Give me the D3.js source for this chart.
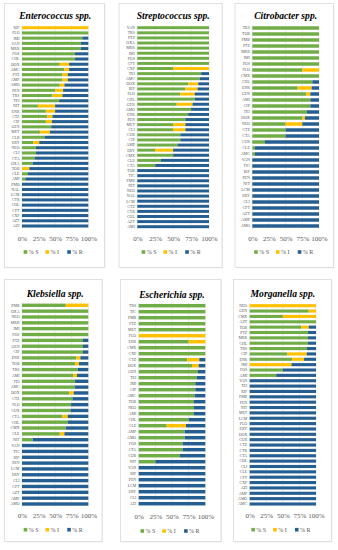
<!DOCTYPE html>
<html>
<head>
<meta charset="utf-8">
<script src="https://cdn.jsdelivr.net/npm/d3@7"></script>
<style>
  body { margin: 0; background: #fff; }
  svg { display: block; }
  .cat { font-family: "Liberation Serif", serif; font-size: 3.9px; fill: #595959; }
  .title { font-family: "Liberation Serif", serif; font-size: 9.6px; font-weight: bold; font-style: italic; fill: #000; }
  .tick text { font-family: "Liberation Serif", serif; font-size: 7px; fill: #595959; }
  .leg { font-family: "Liberation Serif", serif; font-size: 6px; fill: #595959; }
</style>
</head>
<body>
<div id="chart"></div>
<script>
// Enterococcus spp.
const entCats = ["RIF","FLO","IMI","VAN","MRR","FOS","CHL","DOX","AMC","PTZ","AMP","AMO","PEN","TRS","TEI","NIT","ENR","CTZ","CIP","GEN","MET","CLR","ERY","NEO","CLI","CTA","OXA","TOB","CLE","AMI","PMB","NAL","LCM","CTR","COL","CFT","CXP","AZT","AZI"];
const entS = [0,100,91,89,89,80,80,57,64,61,61,57,50,46,56,24,36,38,36,44,27,34,17,21,21,19,16,0,9,5,0,0,0,0,0,0,0,0,0];
const entI = [100,0,0,0,0,0,0,14,7,8,8,7,12,15,0,26,14,8,9,0,15,0,9,0,0,0,0,11,0,0,0,0,0,0,0,0,0,0,0];
const entR = [0,0,9,11,11,20,20,29,29,31,31,36,38,39,44,50,50,54,55,56,58,66,74,79,79,81,84,89,91,95,100,100,100,100,100,100,100,100,100];

// Streptococcus spp.
const strCats = ["VAN","TRS","PTZ","OXA","MRR","IMI","FOS","CFT","CXP","TEI","AMC","DOX","RIF","FLO","CHL","GEN","AMO","ENR","PEN","MET","CLI","CUR","CIP","AMP","ERY","CMX","CLE","CTA","TOB","TIC","PMB","NIT","NEO","NAL","LCM","CTZ","CTR","COL","AZT","AMI"];
const strS = [100,100,100,100,100,100,100,100,50,89,87,71,67,60,80,55,75,71,67,50,50,60,60,56,25,50,33,25,0,0,0,0,0,0,0,0,0,0,0,0];
const strI = [0,0,0,0,0,0,0,0,50,0,0,14,17,20,0,22,0,0,0,17,17,0,0,0,25,0,0,0,0,0,0,0,0,0,0,0,0,0,0,0];
const strR = [0,0,0,0,0,0,0,0,0,11,13,15,16,20,20,23,25,29,33,33,33,40,40,44,50,50,67,75,100,100,100,100,100,100,100,100,100,100,100,100];

// Citrobacter spp.
const citCats = ["TRS","TOB","PMB","PTZ","MRR","IMI","FOS","FLO","CMX","CHL","ENR","GEN","AMI","CIP","TEI","DOX","NEO","CTZ","CTA","CUR","CLE","AMC","VAN","TIC","RIF","PEN","NIT","LCM","ERY","CLI","CFT","AZT","AMP","AMO"];
const citS = [100,100,100,100,100,100,100,75,100,90,68,81,87,87,82,75,50,50,50,19,4,4,0,0,0,0,0,0,0,0,0,0,0,0];
const citI = [0,0,0,0,0,0,0,25,0,0,21,6,0,0,0,4,25,0,0,0,0,0,0,0,0,0,0,0,0,0,0,0,0,0];
const citR = [0,0,0,0,0,0,0,0,0,10,11,13,13,13,18,21,25,50,50,81,96,96,100,100,100,100,100,100,100,100,100,100,100,100];

// Klebsiella spp.
const kleCats = ["PMB","OXA","NEO","MRR","IMI","FOS","PTZ","GEN","CIP","ENR","TOB","TRS","AMI","TEI","AMC","DOX","CTZ","FLO","CUR","CTA","CHL","CMX","CLE","NIT","VAN","TIC","RIF","PEN","LCM","ERY","CLI","CFT","AZT","AMP","AMO"];
const kleS = [66,100,100,100,100,100,92,92,92,82,80,84,77,80,80,71,76,74,73,61,69,66,57,16,0,0,0,0,0,0,0,0,0,0,0];
const kleI = [34,0,0,0,0,0,0,0,0,6,6,0,6,0,0,7,0,0,0,8,0,0,7,0,0,0,0,0,0,0,0,0,0,0,0];
const kleR = [0,0,0,0,0,0,8,8,8,12,14,16,17,20,20,22,24,26,27,31,31,34,36,84,100,100,100,100,100,100,100,100,100,100,100];

// Escherichia spp.
const escCats = ["TRS","TIC","PMB","PTZ","MET","FLO","ENR","CMX","CXP","CTZ","DOX","GEN","TEI","IMI","CIP","AMC","TOB","NEO","AMI","CHL","CLE","AMP","AMO","FOS","CTA","CUR","NIT","VAN","RIF","PEN","LCM","ERY","CLI","AZI"];
const escS = [100,100,100,100,100,0,75,100,100,73,80,89,87,85,85,84,83,83,83,75,42,69,69,66,66,62,25,0,0,0,0,0,0,0];
const escI = [0,0,0,0,0,100,25,0,0,18,10,0,0,0,0,0,0,0,0,0,29,0,0,0,0,0,0,0,0,0,0,0,0,0];
const escR = [0,0,0,0,0,0,0,0,0,9,10,11,13,15,15,16,17,17,17,25,29,31,31,34,34,38,75,100,100,100,100,100,100,100];

// Morganella spp.
const morCats = ["NEO","GEN","CMX","AZT","TOB","PTZ","MRR","CHL","TRS","CIP","ENR","IMI","FOS","AMI","VAN","TEI","RIF","PMB","PEN","NIT","MET","LCM","FLO","ERY","DOX","CUR","CTZ","CTR","CTA","COL","CLI","CLE","CFT","CXP","AZI","AMP","AMO","AMC"];
const morS = [0,89,50,100,78,88,88,88,86,57,64,0,50,40,0,0,0,0,0,0,0,0,0,0,0,0,0,0,0,0,0,0,0,0,0,0,0,0];
const morI = [100,11,50,0,11,0,0,0,0,29,18,63,0,0,0,0,0,0,0,0,0,0,0,0,0,0,0,0,0,0,0,0,0,0,0,0,0,0];
const morR = [0,0,0,0,11,12,12,12,14,14,18,37,50,60,100,100,100,100,100,100,100,100,100,100,100,100,100,100,100,100,100,100,100,100,100,100,100,100];

const ticks = [0, 25, 50, 75, 100];
const keys = ["S", "I", "R"];
const legendLabels = ["% S", "% I", "% R"];
const colors = {S: "#70ad47", I: "#ffc000", R: "#255e91"};

const W = 338, H = 550;
const svg = d3.select("#chart").append("svg")
    .attr("width", W)
    .attr("height", H);

const panels = [
    {title: "Enterococcus spp.", cats: entCats, S: entS, I: entI, R: entR,
     box: [4.5, 3.5, 100, 264], px: [22, 88.3], py: [27.7, 226], titleY: 19, tickY: 238.7, legY: 252},
    {title: "Streptococcus spp.", cats: strCats, S: strS, I: strI, R: strR,
     box: [119, 3.5, 103, 264], px: [137.3, 209], py: [27.7, 226.7], titleY: 19, tickY: 238.7, legY: 252},
    {title: "Citrobacter spp.", cats: citCats, S: citS, I: citI, R: citR,
     box: [235, 3.5, 98.5, 264], px: [252.3, 319], py: [28, 226], titleY: 19, tickY: 238.3, legY: 252},
    {title: "Klebsiella spp.", cats: kleCats, S: kleS, I: kleI, R: kleR,
     box: [4.5, 279.5, 97.5, 262], px: [22, 88.3], py: [305.3, 504], titleY: 297, tickY: 515.3, legY: 529.7},
    {title: "Escherichia  spp.", cats: escCats, S: escS, I: escI, R: escR,
     box: [120.5, 279.5, 100.5, 262], px: [138.7, 205.3], py: [305.7, 503.7], titleY: 297.5, tickY: 516.7, legY: 531},
    {title: "Morganella spp.", cats: morCats, S: morS, I: morI, R: morR,
     box: [233.5, 279.5, 98, 262], px: [249.7, 316], py: [305.7, 504], titleY: 297, tickY: 515.7, legY: 529.7}
];

panels.forEach(p => drawPanel(p));

function drawPanel(p) {
    const g = svg.append("g");

    // frame with a faint shadow
    g.append("rect")
        .attr("x", p.box[0] + 0.8)
        .attr("y", p.box[1] + 0.8)
        .attr("width", p.box[2])
        .attr("height", p.box[3])
        .attr("fill", "#ececec");
    g.append("rect")
        .attr("x", p.box[0])
        .attr("y", p.box[1])
        .attr("width", p.box[2])
        .attr("height", p.box[3])
        .attr("fill", "#fff")
        .attr("stroke", "#d4d4d4")
        .attr("stroke-width", 0.7);

    g.append("text")
        .attr("class", "title")
        .attr("x", (p.px[0] + p.px[1]) / 2)
        .attr("y", p.titleY)
        .attr("text-anchor", "middle")
        .text(p.title);

    const n = p.cats.length;
    const step = (p.py[1] - p.py[0]) / (n - 1);

    const x = d3.scaleLinear()
        .domain([0, 100])
        .range(p.px);

    const y = d3.scaleBand()
        .domain(p.cats)
        .range([p.py[0] - step / 2, p.py[1] + step / 2])
        .paddingInner(0.42)
        .paddingOuter(0.21);

    // gridlines
    g.selectAll(".grid")
        .data(ticks)
        .join("line")
        .attr("x1", d => x(d))
        .attr("x2", d => x(d))
        .attr("y1", y.range()[0])
        .attr("y2", y.range()[1])
        .attr("stroke", "#d9d9d9")
        .attr("stroke-width", 0.5);

    const rows = p.cats.map((c, i) => ({cat: c, S: p.S[i], I: p.I[i], R: p.R[i]}));
    const series = d3.stack().keys(keys)(rows);

    g.selectAll(".layer")
        .data(series)
        .join("g")
        .attr("fill", d => colors[d.key])
        .selectAll("rect")
        .data(d => d)
        .join("rect")
        .attr("x", d => x(d[0]))
        .attr("width", d => x(d[1]) - x(d[0]))
        .attr("y", d => y(d.data.cat))
        .attr("height", y.bandwidth());

    // category labels
    g.selectAll(".cat")
        .data(p.cats)
        .join("text")
        .attr("class", "cat")
        .attr("x", p.px[0] - 2.5)
        .attr("y", d => y(d) + y.bandwidth() / 2)
        .attr("dy", "0.35em")
        .attr("text-anchor", "end")
        .text(d => d);

    // x axis labels (no axis line)
    const ax = g.append("g")
        .attr("transform", `translate(0,${p.tickY})`)
        .call(d3.axisBottom(x).tickValues(ticks).tickSize(0).tickFormat(d => d + "%"));
    ax.select(".domain").remove();
    ax.selectAll("text").attr("y", 0).attr("dy", "0.35em");

    // legend
    const cx = (p.px[0] + p.px[1]) / 2;
    const leg = g.append("g")
        .attr("transform", `translate(${cx - 31.5},${p.legY})`);
    const items = leg.selectAll("g")
        .data(keys)
        .join("g")
        .attr("transform", (d, i) => `translate(${i * 21.8},0)`);
    items.append("rect")
        .attr("x", 0)
        .attr("y", -1.8)
        .attr("width", 3.6)
        .attr("height", 3.6)
        .attr("fill", d => colors[d]);
    items.append("text")
        .attr("class", "leg")
        .attr("x", 5)
        .attr("y", 0)
        .attr("dy", "0.35em")
        .text((d, i) => legendLabels[i]);
}
</script>
</body>
</html>
